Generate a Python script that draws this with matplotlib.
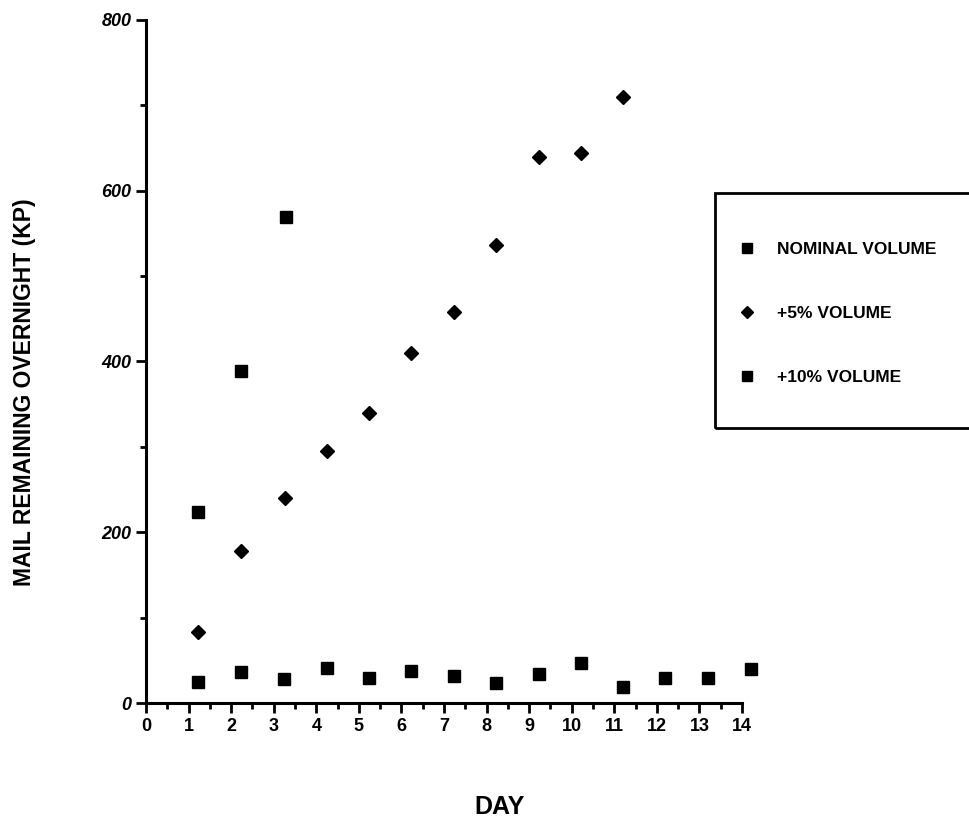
import matplotlib.pyplot as plt
from matplotlib.patches import Rectangle
from matplotlib.ticker import MultipleLocator

# data
nominal_day = [1.23, 2.23, 3.25, 4.25, 5.23, 6.23, 7.23, 8.23, 9.22, 10.22, 11.2, 12.2, 13.2, 14.2]
nominal_val = [25, 36, 28, 41, 29, 38, 32, 23, 34, 47, 19, 29, 29, 40]

plus5_day = [1.23, 2.23, 3.27, 4.25, 5.23, 6.23, 7.23, 8.23, 9.22, 10.22, 11.2]
plus5_val = [83, 178, 240, 295, 340, 410, 458, 536, 640, 644, 710]

plus10_day = [1.23, 2.23, 3.3]
plus10_val = [224, 389, 569]

x_ticks = list(range(0, 15))
y_ticks = [0, 200, 400, 600, 800]

plt.rcParams["font.family"] = ["Liberation Sans", "DejaVu Sans"]
plt.rcParams["font.weight"] = "bold"

W, H = 970, 819
fig = plt.figure(figsize=(W / 100, H / 100), dpi=100)
ax = fig.add_axes([146 / W, 116 / H, 596 / W, 683 / H])

ax.plot(nominal_day, nominal_val, "s", color="black", markersize=8,
        label="NOMINAL VOLUME", clip_on=False)
ax.plot(plus5_day, plus5_val, "D", color="black", markersize=7.5,
        label="+5% VOLUME", clip_on=False)
ax.plot(plus10_day, plus10_val, "s", color="black", markersize=8,
        label="+10% VOLUME", clip_on=False)

ax.set_xlim(0, 14)
ax.set_ylim(0, 800)
ax.set_xticks(x_ticks)
ax.set_yticks(y_ticks)
ax.xaxis.set_minor_locator(MultipleLocator(0.5))
ax.yaxis.set_minor_locator(MultipleLocator(100))
ax.tick_params(axis="both", which="major", direction="out", length=7, width=2,
               labelsize=13)
ax.tick_params(axis="both", which="minor", direction="out", length=4, width=2)
for lab in ax.get_yticklabels():
    lab.set_fontstyle("italic")

for s in ["top", "right"]:
    ax.spines[s].set_visible(False)
for s in ["left", "bottom"]:
    ax.spines[s].set_linewidth(2.2)

ax.set_xlabel("DAY", fontsize=18, fontweight="bold")
ax.xaxis.set_label_coords((500 - 146) / 596, (H - 795 - 116) / 683)
ax.set_ylabel("MAIL REMAINING OVERNIGHT (KP)", fontsize=16.5, fontweight="bold")
ax.yaxis.set_label_coords((36 - 146) / 596, (H - 392 - 116) / 683)

# legend box, running off the right edge
fig.patches.append(Rectangle((715 / W, (H - 428) / H), 270 / W, 235 / H,
                             transform=fig.transFigure, fill=False,
                             edgecolor="black", linewidth=2, clip_on=False))
leg = fig.legend(loc="upper left", bbox_to_anchor=(730 / W, (H - 235) / H),
                 frameon=False, fontsize=12.5, labelspacing=2.8, handletextpad=1.1,
                 handlelength=1.2, markerscale=0.85, borderaxespad=0)
for t in leg.get_texts():
    t.set_fontweight("bold")

fig.savefig("out.png", dpi=100)
